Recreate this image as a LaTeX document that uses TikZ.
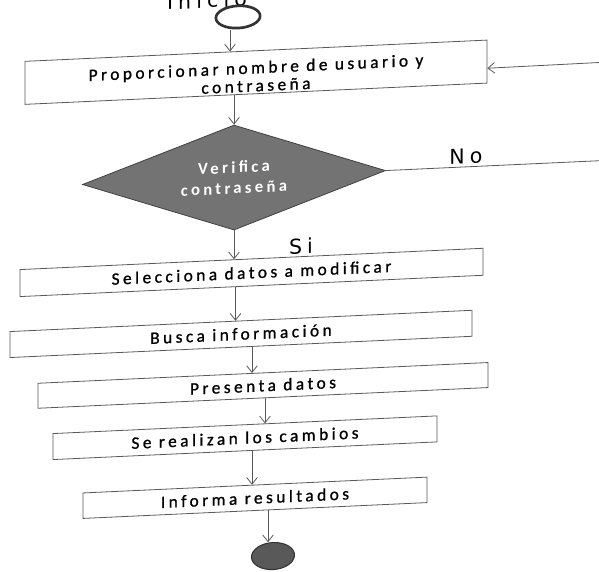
\documentclass[tikz,border=0pt]{standalone}
\usepackage{fontspec}
\setmainfont{Carlito}[LetterSpace=20, FakeBold=1]
\newfontfamily\diafont{Carlito}[LetterSpace=20]
\newfontfamily\lblfont{DejaVu Sans}[LetterSpace=25]
\usetikzlibrary{arrows.meta,shapes.geometric}
\tikzset{
  box/.style={draw=black!65, line width=0.6pt, rectangle, inner sep=0pt,
    align=center, text=black, font=\fontsize{13}{14}\selectfont},
  dia/.style={diamond, aspect=2.9, inner sep=0pt, fill=black!55, draw=black!75,
    line width=0.6pt, text=white, align=center,
    font=\diafont\bfseries\fontsize{12.5}{15.5}\selectfont},
  arr/.style={draw=black!65, line width=0.6pt, -{Straight Barb[length=5pt,width=8pt]}},
  flow/.style={draw=black!65, line width=0.6pt},
  lbl/.style={inner sep=0pt, text=black, font=\lblfont\fontsize{15.4}{18}\selectfont},
  startc/.style={ellipse, draw=black!80, line width=2pt, inner sep=0pt,
    minimum width=33.2pt, minimum height=16.7pt},
  endc/.style={ellipse, draw=black!80, fill=black!65, line width=0.8pt, inner sep=0pt,
    minimum width=32.25pt, minimum height=20.25pt}
}
\begin{document}
\begin{tikzpicture}[x=0.75pt,y=-0.75pt]
\useasboundingbox (0,0) rectangle (599,571);
\clip (0,0) rectangle (599,571);
\begin{scope}[yslant=0.046, transform shape]
  % labels
  \node[lbl, anchor=base] (ini) at (207,17.5) {Inicio};
  % start / end
  \node[startc] (c0) at (238,27.9) {};
  \node[box, minimum width=346.5pt, minimum height=32.25pt, font=\fontsize{13}{15.5}\selectfont] (b1) at (256,84)
    {\raisebox{-4.5pt}[\height][\depth]{\begin{tabular}{@{}c@{}}Proporcionar nombre de usuario y\\[-2pt]contraseña\end{tabular}}};
  \node[dia, minimum width=227.25pt, minimum height=78.75pt] (d) at (234,188.3)
    {Verifica\\contraseña};
  \node[box, minimum width=347.25pt, minimum height=20.25pt] (b2) at (251.5,284)
    {Selecciona datos a modificar};
  \node[box, minimum width=346.5pt, minimum height=19.5pt] (b3) at (241,345)
    {Busca información};
  \node[box, minimum width=337.5pt, minimum height=18.75pt] (b4) at (263,397.5)
    {Presenta datos};
  \node[box, minimum width=288pt, minimum height=19.5pt] (b5) at (245,449)
    {Se realizan los cambios};
  \node[box, minimum width=258pt, minimum height=19.1pt] (b6) at (255,509.5)
    {Informa resultados};
  \node[endc] (c1) at (273,568.6) {};
  \node[lbl] (no) at (466,177.4) {No};
  \node[lbl] (si) at (301,260.3) {Si};
  % free ends
  \coordinate (inR) at (612,90);
  \coordinate (noR) at (612,188.3);
  % connectors
  \coordinate (p0) at ([xshift=-6pt]c0.south);
  \draw[arr] (p0) -- (p0 |- b1.north);
  \draw[arr] (b1.south -| d.north) -- (d.north);
  \draw[arr] (d.south) -- (d.south |- b2.north);
  \coordinate (p3) at ([xshift=-12pt]b2.south);
  \draw[arr] (p3) -- (p3 |- b3.north);
  \coordinate (p4) at ([xshift=8.25pt]b3.south);
  \draw[arr] (p4) -- (p4 |- b4.north);
  \coordinate (p5) at ([xshift=1.5pt]b4.south);
  \draw[arr] (p5) -- (p5 |- b5.north);
  \coordinate (p6) at ([xshift=5.25pt]b5.south);
  \draw[arr] (p6) -- (p6 |- b6.north);
  \coordinate (p7) at ([xshift=9.75pt]b6.south);
  \draw[arr] (p7) -- (p7 |- c1.north);
  \draw[flow] (d.east) -- (noR);
  \draw[arr] (inR) -- ([yshift=-5pt]b1.east);
\end{scope}
\end{tikzpicture}
\end{document}
